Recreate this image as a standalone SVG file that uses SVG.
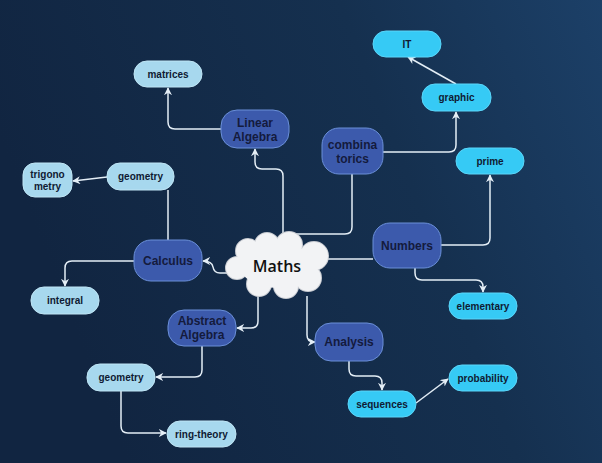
<svg xmlns="http://www.w3.org/2000/svg" width="602" height="463" viewBox="0 0 602 463">
<defs>
<linearGradient id="bg" x1="0" y1="0.3" x2="1" y2="0">
<stop offset="0" stop-color="#112541"/>
<stop offset="0.6" stop-color="#15304f"/>
<stop offset="1" stop-color="#1c4068"/>
</linearGradient>
<marker id="arr" viewBox="0 0 10 10" refX="9" refY="5" markerWidth="8" markerHeight="8" markerUnits="userSpaceOnUse" orient="auto">
<path d="M0,0 L10,5 L0,10 L3,5 z" fill="#e4eef6"/>
</marker>
<style>
.c{fill:none;stroke:#e4eef6;stroke-width:1.5}
.a{marker-end:url(#arr)}
.lb{fill:#a7d8ee;stroke:#bfe5f5;stroke-width:1}
.cy{fill:#36caf5;stroke:#5ad6fa;stroke-width:1}
.dk{fill:#3c5aac;stroke:#6a8fd8;stroke-width:1}
.t{font-family:"Liberation Sans",Arial,sans-serif;font-weight:bold;font-size:10px;fill:#0f1a33;text-anchor:middle}
.T{font-family:"Liberation Sans",Arial,sans-serif;font-weight:bold;font-size:12px;fill:#141b3d;text-anchor:middle}
</style>
</defs>
<rect width="602" height="463" fill="url(#bg)"/>
<g id="connectors">
<path class="c a" d="M283,236 V176 Q283,169 276,169 H262 Q255,169 255,162 V149"/>
<path class="c" d="M283,234 H345 Q352,234 352,227 V174"/>
<path class="c a" d="M383,152 H449 Q456,152 456,145 V112"/>
<path class="c a" d="M456,84 L408,57"/>
<path class="c a" d="M221,129 H175 Q168,129 168,122 V88"/>
<path class="c a" d="M107,177 L73,181"/>
<path class="c" d="M168,190 V240"/>
<path class="c a" d="M229,273 H220 Q214,273 213,267 Q212,261 203,261"/>
<path class="c a" d="M134,261 H72 Q65,261 65,268 V286"/>
<path class="c a" d="M258,295 V321 Q258,328 251,328 H237"/>
<path class="c a" d="M202,346 V370 Q202,377 195,377 H156"/>
<path class="c a" d="M121,391 V426 Q121,433 128,433 H166"/>
<path class="c" d="M327,259 H373"/>
<path class="c a" d="M441,245 H483 Q490,245 490,238 V175"/>
<path class="c a" d="M415,268 V273 Q415,280 422,280 H476 Q483,280 483,287 V292"/>
<path class="c a" d="M307,296 V335 Q307,342 314,342 H315"/>
<path class="c a" d="M349,361 V369 Q349,376 356,376 H375 Q382,376 382,383 V390"/>
<path class="c a" d="M416,403 L448,379"/>
</g>
<g id="maths">
<g fill="#f2f3f5" stroke="#c9ccd2" stroke-width="2">
<circle cx="237" cy="268" r="11"/>
<circle cx="248" cy="251" r="12"/>
<circle cx="267" cy="245" r="12"/>
<circle cx="289" cy="245" r="13"/>
<circle cx="314" cy="256" r="14"/>
<circle cx="308" cy="278" r="13"/>
<circle cx="286" cy="286" r="12"/>
<circle cx="259" cy="284" r="12"/>
</g>
<g fill="#f2f3f5">
<circle cx="237" cy="268" r="11"/>
<circle cx="248" cy="251" r="12"/>
<circle cx="267" cy="245" r="12"/>
<circle cx="289" cy="245" r="13"/>
<circle cx="314" cy="256" r="14"/>
<circle cx="308" cy="278" r="13"/>
<circle cx="286" cy="286" r="12"/>
<circle cx="259" cy="284" r="12"/>
<ellipse cx="278" cy="266" rx="38" ry="22"/>
</g>
<text x="277" y="272" font-family="'Open Sans',sans-serif" font-size="16" font-weight="600" fill="#111" text-anchor="middle">Maths</text>
</g>
<g id="linear-algebra"><rect class="dk" x="221" y="110" width="68" height="38" rx="16"/><text class="T" x="255" y="127">Linear</text><text class="T" x="255" y="141">Algebra</text></g>
<g id="matrices"><rect class="lb" x="134" y="61" width="68" height="26" rx="13"/><text class="t" x="168" y="77.5">matrices</text></g>
<g id="geometry-1"><rect class="lb" x="107" y="163" width="67" height="27" rx="13"/><text class="t" x="140.5" y="180">geometry</text></g>
<g id="trigonometry"><rect class="lb" x="23" y="163" width="49" height="34" rx="12"/><text class="t" x="47.5" y="178">trigono</text><text class="t" x="47.5" y="190">metry</text></g>
<g id="calculus"><rect class="dk" x="134" y="240" width="68" height="41" rx="17"/><text class="T" x="168" y="265">Calculus</text></g>
<g id="integral"><rect class="lb" x="31" y="287" width="68" height="27" rx="13"/><text class="t" x="65" y="304">integral</text></g>
<g id="abstract-algebra"><rect class="dk" x="168" y="310" width="68" height="36" rx="16"/><text class="T" x="202" y="325">Abstract</text><text class="T" x="202" y="339">Algebra</text></g>
<g id="geometry-2"><rect class="lb" x="87" y="364" width="68" height="27" rx="13"/><text class="t" x="121" y="381">geometry</text></g>
<g id="ring-theory"><rect class="lb" x="167" y="421" width="69" height="26" rx="13"/><text class="t" x="201.5" y="437.5">ring-theory</text></g>
<g id="it"><rect class="cy" x="373" y="31" width="68" height="26" rx="13"/><text class="t" x="407" y="47.5">IT</text></g>
<g id="graphic"><rect class="cy" x="422" y="84" width="69" height="27" rx="13"/><text class="t" x="456.5" y="101">graphic</text></g>
<g id="combinatorics"><rect class="dk" x="322" y="128" width="61" height="46" rx="17"/><text class="T" x="352.5" y="149">combina</text><text class="T" x="352.5" y="163">torics</text></g>
<g id="prime"><rect class="cy" x="456" y="148" width="68" height="26" rx="13"/><text class="t" x="490" y="164.5">prime</text></g>
<g id="numbers"><rect class="dk" x="373" y="223" width="68" height="45" rx="17"/><text class="T" x="407" y="250">Numbers</text></g>
<g id="elementary"><rect class="cy" x="449" y="293" width="68" height="26" rx="13"/><text class="t" x="483" y="309.5">elementary</text></g>
<g id="analysis"><rect class="dk" x="315" y="323" width="68" height="38" rx="16"/><text class="T" x="349" y="346">Analysis</text></g>
<g id="sequences"><rect class="cy" x="348" y="391" width="68" height="26" rx="13"/><text class="t" x="382" y="407.5">sequences</text></g>
<g id="probability"><rect class="cy" x="449" y="365" width="68" height="26" rx="13"/><text class="t" x="483" y="381.5">probability</text></g>
</svg>
